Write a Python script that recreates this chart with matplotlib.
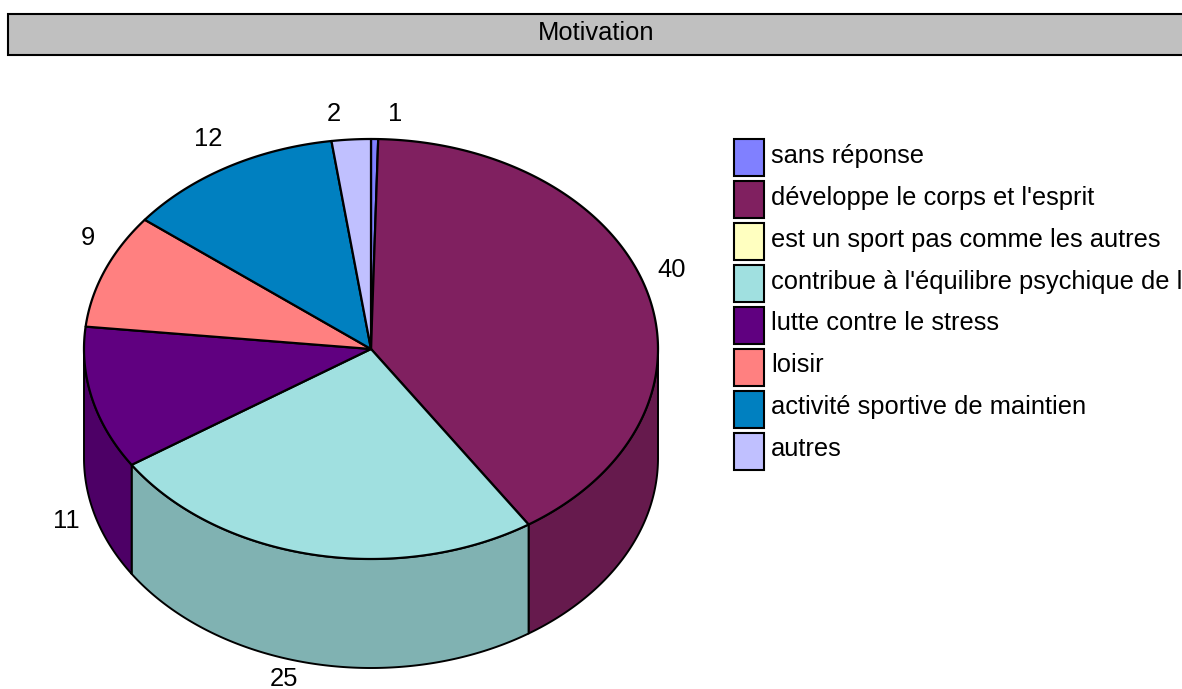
import numpy as np
import matplotlib
matplotlib.use("Agg")
import matplotlib.pyplot as plt
from matplotlib.patches import Polygon, Rectangle

plt.rcParams['font.family'] = ['Liberation Sans', 'DejaVu Sans']

title = "Motivation"
categories = ["sans réponse", "développe le corps et l'esprit", "est un sport pas comme les autres",
              "contribue à l'équilibre psychique de l'individu", "lutte contre le stress", "loisir",
              "activité sportive de maintien", "autres"]
values = [0.4, 40.35, 0, 24.95, 11.0, 8.85, 12.25, 2.2]
value_labels = ["1", "40", "", "25", "11", "9", "12", "2"]
colors = ["#8080ff", "#802060", "#ffffc0", "#a0e0e0", "#600080", "#ff8080", "#0080c0", "#c0c0ff"]
side_colors = ["#6060c0", "#661a4d", "#cccc99", "#80b2b2", "#4d0066", "#cc6666", "#006699", "#9999cc"]
label_xy = [(395, 114), (672, 270), None, (284, 678.5), (66, 521), (88, 238), (208, 139), (334, 114)]

W, H = 1182, 689
fig = plt.figure(figsize=(W / 100, H / 100), dpi=100)
ax = fig.add_axes([0, 0, 1, 1])
ax.set_xlim(0, W)
ax.set_ylim(H, 0)
ax.axis("off")

FS = 18.4
cx, cy, rx, ry, depth = 371, 349, 287, 210, 109
total = sum(values)

def rim(a0, a1):
    t = np.radians(np.linspace(a0, a1, max(2, int(abs(a1 - a0) * 2) + 2)))
    return np.column_stack([cx + rx * np.sin(t), cy - ry * np.cos(t)])

cum = np.concatenate([[0], np.cumsum(values)]) * 360 / total

# side wall (visible front half only: 90..270 deg clockwise from top)
for i, v in enumerate(values):
    if v == 0:
        continue
    a0, a1 = max(cum[i], 90), min(cum[i + 1], 270)
    if a1 <= a0:
        continue
    top = rim(a0, a1)
    bot = top[::-1] + [0, depth]
    ax.add_patch(Polygon(np.vstack([top, bot]), closed=True, fc=side_colors[i], ec="black", lw=1.4, joinstyle="round"))

# top face
for i, v in enumerate(values):
    if v == 0:
        continue
    pts = np.vstack([[cx, cy], rim(cum[i], cum[i + 1])])
    ax.add_patch(Polygon(pts, closed=True, fc=colors[i], ec="black", lw=1.6, joinstyle="round"))

for i, v in enumerate(values):
    if label_xy[i] is not None:
        ax.text(*label_xy[i], value_labels[i], fontsize=FS, ha="center", va="center", color="black")

# title bar
ax.add_patch(Rectangle((8, 14), W + 20, 41, fc="#c0c0c0", ec="black", lw=1.5, clip_on=True))
ax.text(596, 33.5, title, fontsize=FS, ha="center", va="center", color="black")

# legend
for i, (c, name) in enumerate(zip(colors, categories)):
    y = 139 + i * 42
    ax.add_patch(Rectangle((734, y), 30, 37, fc=c, ec="black", lw=1.5))
    ax.text(771, y + 17 - i * 0.15, name, fontsize=FS, ha="left", va="center", color="black", clip_on=True)

fig.savefig("out.png", dpi=100, facecolor="white")
